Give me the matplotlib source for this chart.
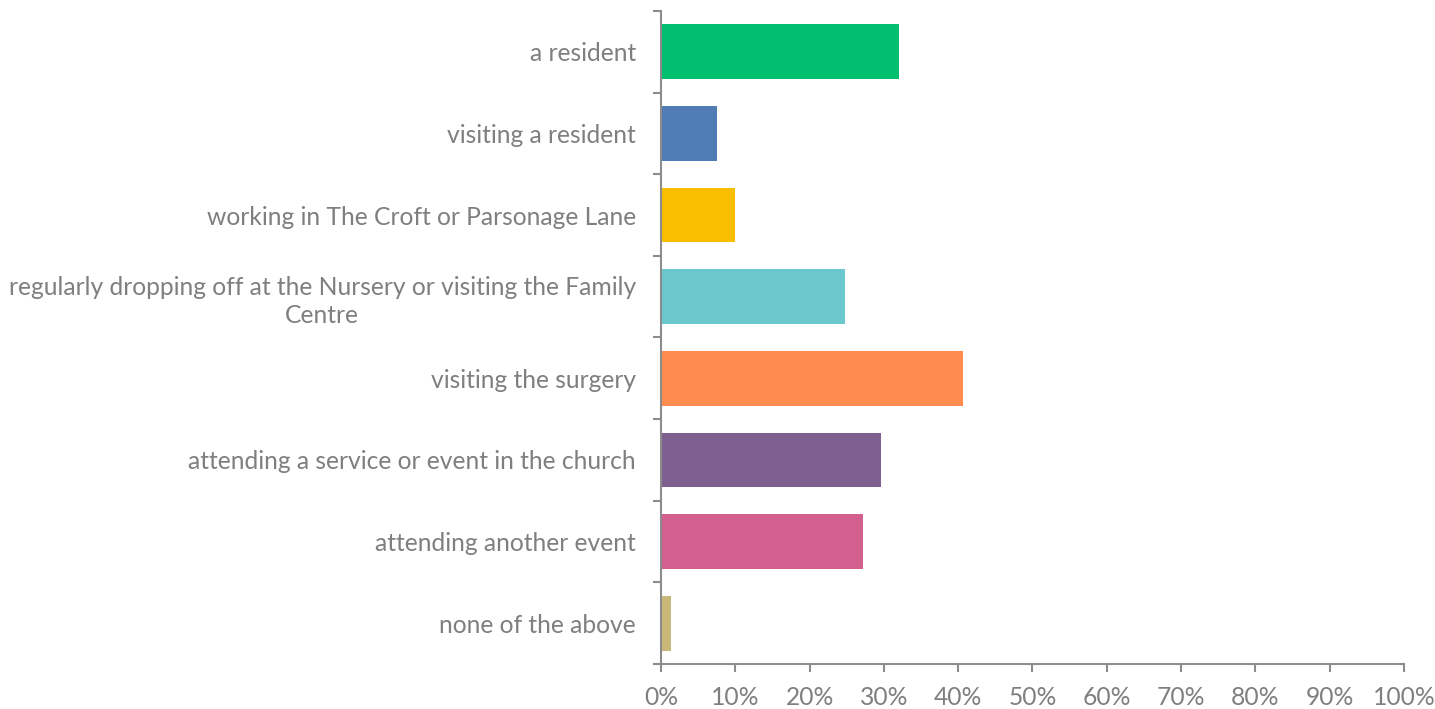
import matplotlib.pyplot as plt
import numpy as np
from matplotlib.ticker import FuncFormatter

categories = ['a resident',
              'visiting a resident',
              'working in The Croft or Parsonage Lane',
              'regularly dropping off at the Nursery or visiting the Family\nCentre',
              'visiting the surgery',
              'attending a service or event in the church',
              'attending another event',
              'none of the above']
values = [32.1, 7.5, 10.0, 24.8, 40.7, 29.6, 27.2, 1.3]
colors = ['#00BF6F', '#507CB6', '#F9BE00', '#6BC8CD',
          '#FF8B4F', '#7F5F8F', '#D35F8F', '#C9B877']

plt.rcParams['font.family'] = ['Lato', 'DejaVu Sans']
grey = '#7F7F7F'
axis_grey = '#8C8C8C'

fig = plt.figure(figsize=(14.35, 7.09), dpi=100)
ax = fig.add_axes([0.4606, 0.0635, 0.5178, 0.921])

y = np.arange(len(categories))
ax.barh(y, values, height=0.67, color=colors)
ax.set_ylim(len(categories) - 0.5, -0.5)
ax.set_xlim(0, 100)

ax.set_yticks(y)
ax.set_yticklabels(categories, multialignment='center', linespacing=1.3)
ax.set_yticks(np.arange(len(categories) + 1) - 0.5, minor=True)
ax.tick_params(axis='y', which='major', length=0, pad=18, labelsize=17.7, labelcolor=grey)
ax.tick_params(axis='y', which='minor', length=6, width=1.5, color=axis_grey)

ax.set_xticks(np.arange(0, 101, 10))
ax.xaxis.set_major_formatter(FuncFormatter(lambda v, p: f'{v:.0f}%'))
ax.tick_params(axis='x', length=6, width=1.5, color=axis_grey, pad=10,
               labelsize=17.7, labelcolor=grey)

for s in ['top', 'right']:
    ax.spines[s].set_visible(False)
for s in ['left', 'bottom']:
    ax.spines[s].set_color(axis_grey)
    ax.spines[s].set_linewidth(1.5)

fig.savefig('out.png', dpi=100)
